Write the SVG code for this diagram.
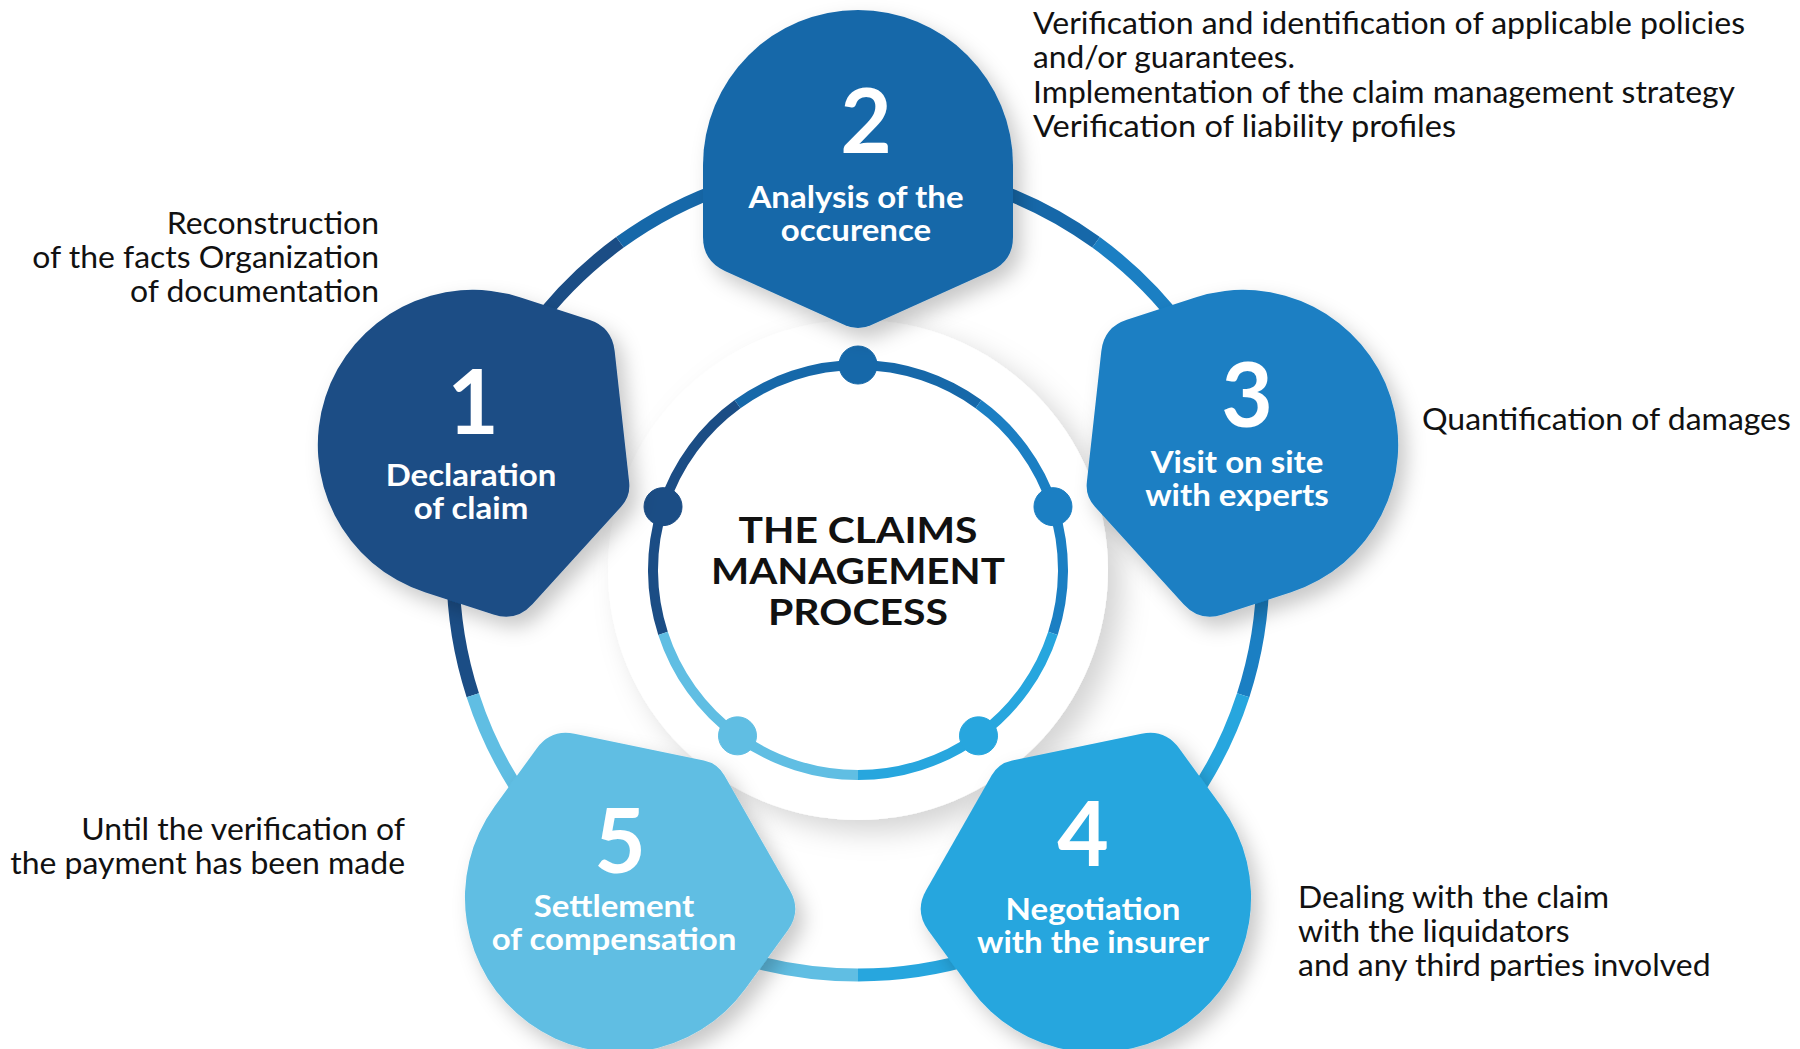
<svg xmlns="http://www.w3.org/2000/svg" xmlns:xlink="http://www.w3.org/1999/xlink" width="1800" height="1049" viewBox="0 0 1800 1049">
<style>
.num{font-family:Lato,"Liberation Sans",sans-serif;font-weight:700;font-size:89px;fill:#fff;text-anchor:middle}
.lbl{font-family:Lato,"Liberation Sans",sans-serif;font-weight:700;font-size:30px;fill:#fff;text-anchor:middle}
.note{font-family:Lato,"Liberation Sans",sans-serif;font-size:30px;fill:#111}
.title{font-family:Lato,"Liberation Sans",sans-serif;font-weight:700;font-size:37px;fill:#111;text-anchor:middle}
.ring{fill:none;stroke-linecap:butt}
.outer{stroke-width:13}
.inner{stroke-width:10}
.c1{fill:#1b4d85;stroke:#1b4d85}
.c2{fill:#1668a9;stroke:#1668a9}
.c3{fill:#1b7fc3;stroke:#1b7fc3}
.c4{fill:#27a6de;stroke:#27a6de}
.c5{fill:#60bee3;stroke:#60bee3}
</style>
<defs>
<path id="blob" d="M -155 0 A 155 155 0 0 1 155 0 L 155 72 Q 155 96 133.13 105.88 L 12.76 160.24 Q 0 166 -12.76 160.24 L -133.13 105.88 Q -155 96 -155 72 Z" stroke="none"/>
<filter id="sh" x="-30%" y="-30%" width="160%" height="160%">
<feDropShadow dx="8" dy="10" stdDeviation="10" flood-color="#000" flood-opacity="0.22"/>
</filter>
<filter id="dsh" x="-20%" y="-20%" width="140%" height="140%">
<feDropShadow dx="14" dy="12" stdDeviation="14" flood-color="#000" flood-opacity="0.17"/>
</filter>
</defs>
<rect width="1800" height="1049" fill="#fff"/>

<g id="connectors">
<path class="ring outer c1" style="fill:none" d="M 472.82 695.15 A 405 405 0 0 1 619.95 242.35"/>
<path class="ring outer c2" style="fill:none" d="M 619.95 242.35 A 405 405 0 0 1 1096.05 242.35"/>
<path class="ring outer c3" style="fill:none" d="M 1096.05 242.35 A 405 405 0 0 1 1243.18 695.15"/>
<path class="ring outer c4" style="fill:none" d="M 1243.18 695.15 A 405 405 0 0 1 858 975"/>
<path class="ring outer c5" style="fill:none" d="M 858 975 A 405 405 0 0 1 472.82 695.15"/>
</g>

<g id="center">
<circle cx="858" cy="570" r="250" fill="#fff" filter="url(#dsh)"/>
<path class="ring inner c1" style="fill:none" d="M 663.03 633.35 A 205 205 0 0 1 737.5 404.15"/>
<path class="ring inner c2" style="fill:none" d="M 737.5 404.15 A 205 205 0 0 1 978.5 404.15"/>
<path class="ring inner c3" style="fill:none" d="M 978.5 404.15 A 205 205 0 0 1 1052.97 633.35"/>
<path class="ring inner c4" style="fill:none" d="M 1052.97 633.35 A 205 205 0 0 1 858 775"/>
<path class="ring inner c5" style="fill:none" d="M 858 775 A 205 205 0 0 1 663.03 633.35"/>
<circle class="c1" cx="663.03" cy="506.65" r="19"/>
<circle class="c2" cx="858" cy="365" r="19"/>
<circle class="c3" cx="1052.97" cy="506.65" r="19"/>
<circle class="c4" cx="978.5" cy="735.85" r="19"/>
<circle class="c5" cx="737.5" cy="735.85" r="19"/>
<text class="title" x="858" y="543" textLength="239" lengthAdjust="spacingAndGlyphs">THE CLAIMS</text>
<text class="title" x="858" y="584" textLength="294" lengthAdjust="spacingAndGlyphs">MANAGEMENT</text>
<text class="title" x="858" y="625" textLength="180" lengthAdjust="spacingAndGlyphs">PROCESS</text>
</g>

<g id="node-1">
<g filter="url(#sh)"><use xlink:href="#blob" class="c1" transform="translate(472.82 444.85) rotate(-72)"/></g>
<text class="num" x="473" y="434">1</text>
<text class="lbl" transform="translate(471 486) scale(1.1 1)">Declaration</text>
<text class="lbl" transform="translate(471 519) scale(1.1 1)">of claim</text>
</g>

<g id="node-2">
<g filter="url(#sh)"><use xlink:href="#blob" class="c2" transform="translate(858 165)"/></g>
<text class="num" x="866" y="153">2</text>
<text class="lbl" transform="translate(856 208) scale(1.1 1)">Analysis of the</text>
<text class="lbl" transform="translate(856 241) scale(1.1 1)">occurence</text>
</g>

<g id="node-3">
<g filter="url(#sh)"><use xlink:href="#blob" class="c3" transform="translate(1243.18 444.85) rotate(72)"/></g>
<text class="num" x="1247" y="427">3</text>
<text class="lbl" transform="translate(1237 473) scale(1.1 1)">Visit on site</text>
<text class="lbl" transform="translate(1237 506) scale(1.1 1)">with experts</text>
</g>

<g id="node-4">
<g filter="url(#sh)"><use xlink:href="#blob" class="c4" transform="translate(1096.05 897.65) rotate(144)"/></g>
<text class="num" x="1083" y="866">4</text>
<text class="lbl" transform="translate(1093 920) scale(1.1 1)">Negotiation</text>
<text class="lbl" transform="translate(1093 953) scale(1.1 1)">with the insurer</text>
</g>

<g id="node-5">
<g filter="url(#sh)"><use xlink:href="#blob" class="c5" transform="translate(619.95 897.65) rotate(-144)"/></g>
<text class="num" x="620" y="873">5</text>
<text class="lbl" transform="translate(614 917) scale(1.1 1)">Settlement</text>
<text class="lbl" transform="translate(614 950) scale(1.1 1)">of compensation</text>
</g>

<g id="notes">
<text class="note" x="1033" y="34" textLength="712" lengthAdjust="spacingAndGlyphs">Verification and identification of applicable policies</text>
<text class="note" x="1033" y="68" textLength="262" lengthAdjust="spacingAndGlyphs">and/or guarantees.</text>
<text class="note" x="1033" y="103" textLength="702" lengthAdjust="spacingAndGlyphs">Implementation of the claim management strategy</text>
<text class="note" x="1033" y="137" textLength="423" lengthAdjust="spacingAndGlyphs">Verification of liability profiles</text>
<text class="note" text-anchor="end" transform="translate(379 234) scale(1.065 1)">Reconstruction</text>
<text class="note" text-anchor="end" transform="translate(379 268) scale(1.065 1)">of the facts Organization</text>
<text class="note" text-anchor="end" transform="translate(379 302) scale(1.065 1)">of documentation</text>
<text class="note" transform="translate(1422 430) scale(1.065 1)">Quantification of damages</text>
<text class="note" text-anchor="end" transform="translate(405 840) scale(1.065 1)">Until the verification of</text>
<text class="note" text-anchor="end" transform="translate(405 874) scale(1.065 1)">the payment has been made</text>
<text class="note" transform="translate(1298 908) scale(1.065 1)">Dealing with the claim</text>
<text class="note" transform="translate(1298 942) scale(1.065 1)">with the liquidators</text>
<text class="note" transform="translate(1298 976) scale(1.065 1)">and any third parties involved</text>
</g>
</svg>
